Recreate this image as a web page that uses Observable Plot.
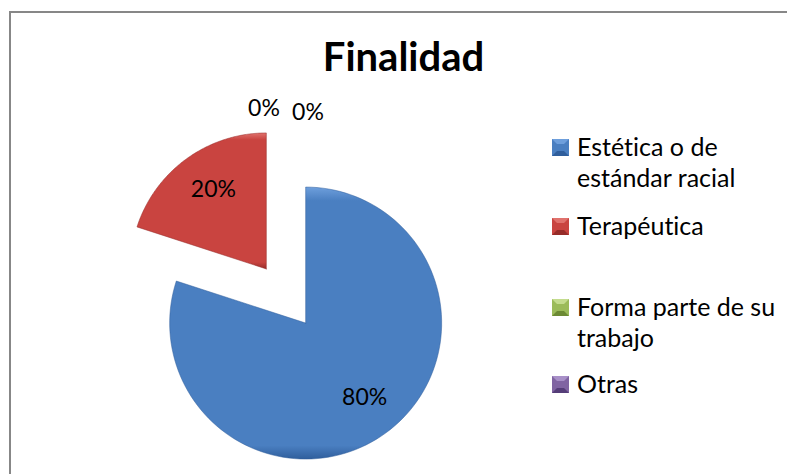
<!DOCTYPE html>
<html>
<head>
<meta charset="utf-8">
<script src="https://cdn.jsdelivr.net/npm/d3@7"></script>
<script src="https://cdn.jsdelivr.net/npm/@observablehq/plot@0.6"></script>
<style>
  body { margin: 0; background: #fff; }
  #chart { position: relative; width: 787px; height: 474px; overflow: hidden; background: #fff; font-family: Lato, "Open Sans", sans-serif; color: #000; font-variant-ligatures: none; }
  #frame { position: absolute; left: 9px; top: 11px; width: 820px; height: 500px; border-top: 2px solid #878787; border-left: 2px solid #878787; box-sizing: border-box; }
  #plot { position: absolute; left: 0; top: 0; }
  #plot svg text { font-variant-ligatures: none; }
  #title { position: absolute; left: 0; width: 807px; top: 32px; text-align: center; font-weight: 700; font-size: 40px; line-height: 48px; white-space: nowrap; }
  .entry { position: absolute; left: 552px; display: flex; align-items: flex-start; }
  .sw { width: 7px; height: 7px; border: 5px solid; margin-top: 8px; flex: none; }
  .lbl { margin-left: 8px; font-size: 25px; line-height: 31px; }
</style>
</head>
<body>
<div id="chart">
  <div id="plot"></div>
  <div id="frame"></div>
  <div id="title"></div>
  <div id="legend"></div>
</div>
<script>
// ---- data ----
const categories = ["Estética o de estándar racial", "Terapéutica", "Forma parte de su trabajo", "Otras"];
const legendLines = [["Estética o de", "estándar racial"], ["Terapéutica"], ["Forma parte de su", "trabajo"], ["Otras"]];
const values = [80, 20, 0, 0];
const colors = ["#4a7fc1", "#c94440", "#9bbb59", "#8064a2"];
const lightColors = ["#6e9fdc", "#e0726d", "#c4dc8e", "#a890c8"];
const darkColors = ["#2f5e9c", "#962c29", "#6c8a34", "#553d78"];
const titleText = "Finalidad";

// ---- layout ----
const W = 787, H = 474;
const cx = 285.5, cy = 295.5, Rpx = 136;   // pie centre & radius in pixels
const explode = 0.246;                    // fraction of radius

const total = d3.sum(values);
const arcs = d3.pie().sort(null).value(d => d)(values);

// polygon points for every non-empty slice (data units: radius = 1)
const pts = [];
arcs.forEach((a, i) => {
  if (a.value <= 0) return;
  const mid = (a.startAngle + a.endAngle) / 2;
  const ox = explode * Math.sin(mid), oy = explode * Math.cos(mid);
  pts.push({i, x: ox, y: oy});
  const n = 120;
  for (let k = 0; k <= n; k++) {
    const t = a.startAngle + (a.endAngle - a.startAngle) * k / n;
    pts.push({i, x: ox + Math.sin(t), y: oy + Math.cos(t)});
  }
  pts.push({i, x: ox, y: oy});
});

// labels
const lab = arcs.map((a, i) => {
  const mid = (a.startAngle + a.endAngle) / 2;
  const ox = explode * Math.sin(mid), oy = explode * Math.cos(mid);
  const r = a.value > 0 ? 0.7 : 1.12;
  return {i, x: ox + r * Math.sin(mid), y: oy + r * Math.cos(mid),
          text: Math.round(100 * a.value / total) + "%"};
});
const labIn = lab.filter(d => values[d.i] > 0);
const labZero = lab.filter(d => values[d.i] === 0);

const sliceMarks = [];
arcs.forEach((a, i) => {
  if (a.value <= 0) return;
  sliceMarks.push(Plot.line(pts.filter(p => p.i === i), {
    x: "x", y: "y", curve: "linear",
    fill: `url(#grad${i})`, stroke: darkColors[i], strokeWidth: 1, strokeOpacity: 0.5,
    style: "filter: drop-shadow(2px 3px 3px rgba(0,0,0,0.3))"
  }));
});

const svg = Plot.plot({
  width: W, height: H,
  marginTop: 0, marginRight: 0, marginBottom: 0, marginLeft: 0,
  style: {fontFamily: "Lato, 'Open Sans', sans-serif", background: "transparent", overflow: "visible"},
  x: {domain: [-cx / Rpx, (W - cx) / Rpx], axis: null},
  y: {domain: [-(H - cy) / Rpx, cy / Rpx], axis: null},
  marks: [
    ...sliceMarks,
    Plot.text(labIn, {x: "x", y: "y", text: "text", fontSize: 23, fill: "#000", dx: 3, dy: -2}),
    Plot.text(labZero.slice(0, 1), {x: "x", y: "y", text: "text", fontSize: 23, fill: "#000", dx: -22, dy: -2}),
    Plot.text(labZero.slice(1, 2), {x: "x", y: "y", text: "text", fontSize: 23, fill: "#000", dx: 22, dy: 2})
  ]
});

// bevel-like gradients
const defs = d3.select(svg).insert("defs", ":first-child");
colors.forEach((c, i) => {
  const g = defs.append("linearGradient").attr("id", `grad${i}`)
    .attr("x1", 0).attr("y1", 0).attr("x2", 0).attr("y2", 1);
  g.append("stop").attr("offset", "0%").attr("stop-color", lightColors[i]);
  g.append("stop").attr("offset", "5%").attr("stop-color", colors[i]);
  g.append("stop").attr("offset", "95%").attr("stop-color", colors[i]);
  g.append("stop").attr("offset", "100%").attr("stop-color", darkColors[i]);
});
document.getElementById("plot").appendChild(svg);

// title
document.getElementById("title").textContent = titleText;

// legend
const tops = [131, 210, 291, 368];
const legend = document.getElementById("legend");
categories.forEach((c, i) => {
  const e = document.createElement("div");
  e.className = "entry";
  e.style.top = tops[i] + "px";
  e.title = c;
  const s = document.createElement("div");
  s.className = "sw";
  s.style.background = colors[i];
  s.style.borderColor = `${lightColors[i]} ${colors[i]} ${darkColors[i]} ${colors[i]}`;
  const t = document.createElement("div");
  t.className = "lbl";
  t.innerHTML = legendLines[i].join("<br>");
  e.appendChild(s); e.appendChild(t);
  legend.appendChild(e);
});
</script>
</body>
</html>
